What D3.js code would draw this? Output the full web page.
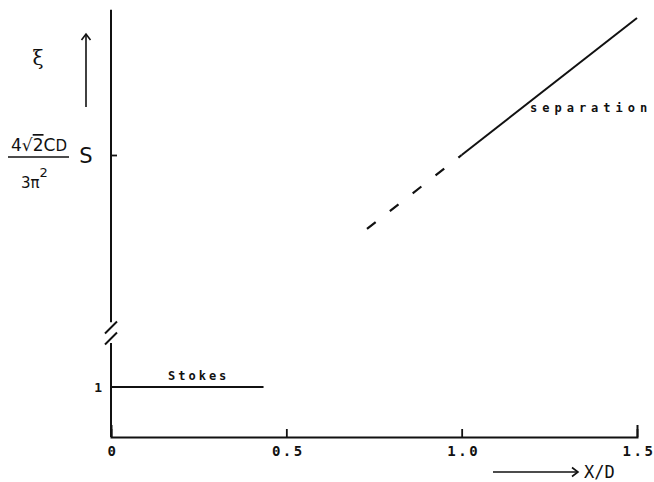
<!doctype html>
<html lang="">
<head>
<meta charset="utf-8">
<style>
    body { margin: 0; background: #fff; }
    .mono { font-family: "DejaVu Sans Mono", monospace; font-weight: bold; fill: #111; }
</style>
</head>
<body>
<div class="start"></div>

<script src="https://d3js.org/d3.v7.min.js"></script>
<script>

    // x ticks
    let xTicks = [0, 0.5, 1.0, 1.5];
    let xTickLabels = ["0", "0.5", "1.0", "1.5"];

    // lower y tick
    let yTicks = [1];
    let yTickLabels = ["1"];

    // Stokes regime, xi (lower, plain units)
    let stokesX = [0, 0.435];
    let stokesXi = [1, 1];

    // separation regime, xi in units of S (upper part of the broken axis)
    let sepSolidX = [1.0, 1.5];
    let sepSolidXi = [1.0, 1.5];
    let sepDashX = [0.73, 1.0];
    let sepDashXi = [0.73, 1.0];

    // axis extents around the break
    let upperTop = 1.53, upperBreak = 0.39;   // upper scale units
    let lowerBreak = 1.88;                     // lower scale units

    let width = 654, height = 482;
    let ink = "#111";

    let svg = d3.select('.start').append('svg')
        .attr('width', width)
        .attr('height', height);

    let x = d3.scaleLinear().domain([0, 1.5]).range([111, 637]);
    let yLow = d3.scaleLinear().domain([0, 1]).range([437, 387]);
    let yHigh = d3.scaleLinear().domain([1, 1.5]).range([155, 18]);

    // arrow head
    svg.append('defs').append('marker')
        .attr('id', 'head')
        .attr('viewBox', '-8 -6 10 12')
        .attr('markerWidth', 10).attr('markerHeight', 12)
        .attr('markerUnits', 'userSpaceOnUse')
        .attr('orient', 'auto')
        .append('path')
        .attr('d', 'M-6,-4.5L0,0L-6,4.5')
        .attr('fill', 'none').attr('stroke', ink).attr('stroke-width', 1.6);

    // x axis, ticks pointing up
    let xAxis = d3.axisBottom(x)
        .tickValues(xTicks)
        .tickFormat((d, i) => xTickLabels[i])
        .tickSizeInner(-8)
        .tickSizeOuter(-12)
        .tickPadding(9);

    let gx = svg.append('g')
        .attr('transform', `translate(0,${yLow(0)})`)
        .call(xAxis);
    gx.select('.domain').attr('stroke', ink).attr('stroke-width', 2);
    gx.selectAll('.tick line').attr('stroke', ink).attr('stroke-width', 1.8);
    gx.selectAll('.tick text')
        .attr('class', 'mono')
        .style('font-size', '14px')
        .style('letter-spacing', '2.5px')
        .attr('dx', '1.5px');

    // y axis, broken
    let yAxisLine = svg.append('g')
        .attr('stroke', ink).attr('stroke-width', 2);
    yAxisLine.append('line')
        .attr('x1', x(0)).attr('x2', x(0))
        .attr('y1', yHigh(upperTop)).attr('y2', yHigh(upperBreak));
    yAxisLine.append('line')
        .attr('x1', x(0)).attr('x2', x(0))
        .attr('y1', yLow(lowerBreak)).attr('y2', yLow(0));

    // break marks
    let breakMid = (yHigh(upperBreak) + yLow(lowerBreak)) / 2;
    [-5, 6].forEach((off) => {
        yAxisLine.append('line')
            .attr('x1', x(0) - 6).attr('y1', breakMid + off + 6)
            .attr('x2', x(0) + 6).attr('y2', breakMid + off - 6);
    });

    // S tick (upper)
    let gyHigh = svg.append('g')
        .attr('transform', `translate(${x(0)},0)`)
        .call(d3.axisRight(yHigh).tickValues([1]).tickSize(6).tickFormat(''));
    gyHigh.select('.domain').remove();
    gyHigh.selectAll('.tick line').attr('stroke', ink).attr('stroke-width', 1.8);

    // 1 tick (lower)
    let gyLow = svg.append('g')
        .attr('transform', `translate(${x(0)},0)`)
        .call(d3.axisLeft(yLow).tickValues(yTicks)
            .tickFormat((d, i) => yTickLabels[i])
            .tickSize(0).tickPadding(9));
    gyLow.select('.domain').remove();
    gyLow.selectAll('.tick text').attr('class', 'mono').style('font-size', '13px');

    // lines
    let lineLow = d3.line().x((d) => x(d[0])).y((d) => yLow(d[1]));
    let lineHigh = d3.line().x((d) => x(d[0])).y((d) => yHigh(d[1]));

    svg.append('path')
        .datum(d3.zip(stokesX, stokesXi))
        .attr('d', lineLow)
        .attr('fill', 'none').attr('stroke', ink).attr('stroke-width', 2);

    svg.append('path')
        .datum(d3.zip(sepSolidX, sepSolidXi))
        .attr('d', lineHigh)
        .attr('fill', 'none').attr('stroke', ink).attr('stroke-width', 2);

    svg.append('path')
        .datum(d3.zip(sepDashX, sepDashXi))
        .attr('d', lineHigh)
        .attr('fill', 'none').attr('stroke', ink).attr('stroke-width', 2.2)
        .attr('stroke-dasharray', '11,18');

    // curve labels
    svg.append('text').attr('class', 'mono')
        .attr('x', x(0.25)).attr('y', yLow(1) - 7)
        .attr('text-anchor', 'middle')
        .style('font-size', '12px').style('letter-spacing', '3px')
        .text('Stokes');

    svg.append('text').attr('class', 'mono')
        .attr('x', 530).attr('y', 112)
        .style('font-size', '12px').style('letter-spacing', '5px')
        .text('separation');

    // x label with arrow
    svg.append('line')
        .attr('x1', 493).attr('x2', 578).attr('y1', 472).attr('y2', 472)
        .attr('stroke', ink).attr('stroke-width', 1.6)
        .attr('marker-end', 'url(#head)');
    svg.append('text').attr('class', 'mono')
        .attr('x', 584).attr('y', 478)
        .style('font-size', '17px').style('font-weight', 'normal')
        .text('X/D');

    // y label: xi with arrow
    svg.append('text')
        .attr('x', 38).attr('y', 65)
        .attr('text-anchor', 'middle')
        .style('font-family', '"DejaVu Serif", serif')
        .style('font-size', '20px').attr('fill', ink)
        .text('ξ');
    svg.append('line')
        .attr('x1', 86).attr('x2', 86).attr('y1', 107).attr('y2', 34)
        .attr('stroke', ink).attr('stroke-width', 1.6)
        .attr('marker-end', 'url(#head)');

    // S level: 4√2 CD / 3π² S
    let frac = svg.append('g')
        .style('font-family', '"DejaVu Sans", sans-serif')
        .attr('fill', ink);
    let num = frac.append('text')
        .attr('x', 39).attr('y', 151)
        .attr('text-anchor', 'middle')
        .style('font-size', '17px');
    num.append('tspan').text('4√');
    num.append('tspan').style('text-decoration', 'overline').text('2');
    num.append('tspan').text('C');
    num.append('tspan').style('font-size', '15px').text('D');

    frac.append('line')
        .attr('x1', 8).attr('x2', 69).attr('y1', 157).attr('y2', 157)
        .attr('stroke', ink).attr('stroke-width', 1.6);

    let den = frac.append('text')
        .attr('x', 21).attr('y', 188)
        .style('font-size', '15px');
    den.append('tspan').text('3π');
    den.append('tspan').attr('dy', -11).style('font-size', '13px').text('2');

    frac.append('text')
        .attr('x', 86).attr('y', yHigh(1) + 8)
        .attr('text-anchor', 'middle')
        .style('font-size', '21px')
        .text('S');

</script>
</body>
</html>
